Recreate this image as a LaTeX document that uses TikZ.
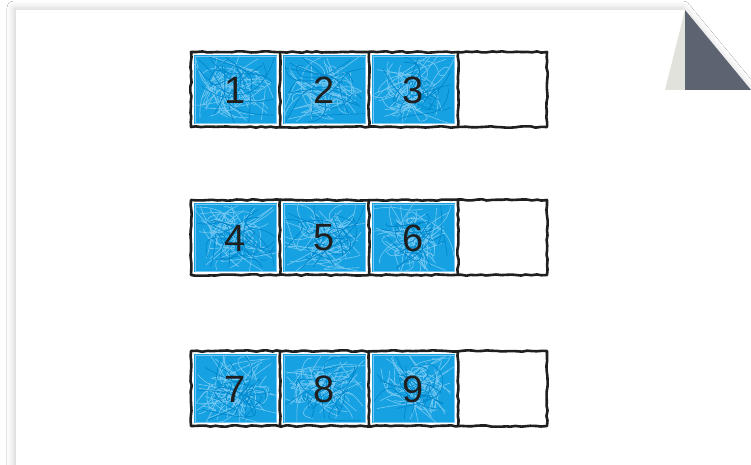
\documentclass[tikz,border=0pt]{standalone}
\usepackage{fontspec}
\setmainfont{Liberation Sans}
\usetikzlibrary{decorations.pathmorphing,shadows.blur}
\definecolor{cellblue}{RGB}{22,162,226}
\definecolor{lightblue}{RGB}{120,200,242}
\definecolor{darkblue}{RGB}{0,135,205}
\definecolor{foldgrey}{RGB}{226,226,220}
\definecolor{folddark}{RGB}{93,99,113}
\tikzset{
  sketch/.style={draw=black!88, line width=2.6pt, line cap=round, line join=round, decorate,
    decoration={random steps, segment length=5pt, amplitude=0.7pt}},
  digit/.style={font=\fontsize{38}{38}\selectfont, text=black!88, inner sep=0pt},
  paper/.style={fill=white, draw=none, blur shadow={shadow xshift=-2pt, shadow yshift=2pt, shadow blur radius=7pt, shadow opacity=18}},
}
\newcommand\myscrib[4]{%
  \fill[cellblue] (#1,#2) rectangle ++(#3,#4);
  \foreach \k in {1,...,32}{
    \draw[lightblue, line width=0.6pt]
      ({#1+rnd*#3},{#2+rnd*#4}) .. controls ({#1+rnd*#3},{#2+rnd*#4}) and ({#1+rnd*#3},{#2+rnd*#4}) .. ({#1+rnd*#3},{#2+rnd*#4});
  }
  \foreach \k in {1,...,12}{
    \draw[darkblue, line width=0.7pt]
      ({#1+rnd*#3},{#2+rnd*#4}) .. controls ({#1+rnd*#3},{#2+rnd*#4}) and ({#1+rnd*#3},{#2+rnd*#4}) .. ({#1+rnd*#3},{#2+rnd*#4});
  }
  \draw[lightblue, line width=0.8pt] (#1+1,#2+1) rectangle ++(#3-2,#4-2);
}
\newcommand\myrow[5]{% y, name, d1, d2, d3
  \myscrib{194}{#1+3}{83}{69}
  \myscrib{283}{#1+3}{83}{69}
  \myscrib{372}{#1+3}{83}{69}
  \node[digit] (#2a) at (235.5,#1+38) {#3};
  \node[digit] (#2b) at (324.5,#1+38) {#4};
  \node[digit] (#2c) at (413.5,#1+38) {#5};
  \draw[sketch] (191,#1) rectangle (547,#1+75);
  \draw[sketch] (280,#1) -- (280,#1+75);
  \draw[sketch] (369,#1) -- (369,#1+75);
  \draw[sketch] (458,#1) -- (458,#1+75);
}
\begin{document}
\begin{tikzpicture}[x=1pt,y=-1pt]
\pgfmathsetseed{7}
\useasboundingbox (0,0) rectangle (751,465);
\fill[white] (0,0) rectangle (751,465);
\path[paper] (16,10) -- (685,10) -- (751,90) -- (751,470) -- (16,470) -- cycle;
\fill[foldgrey] (685,10) -- (665,90) -- (685,90) -- cycle;
\fill[folddark] (685,10) -- (751,90) -- (685,90) -- cycle;
\myrow{52}{r}{1}{2}{3}
\myrow{200}{s}{4}{5}{6}
\myrow{351}{t}{7}{8}{9}
\end{tikzpicture}
\end{document}
